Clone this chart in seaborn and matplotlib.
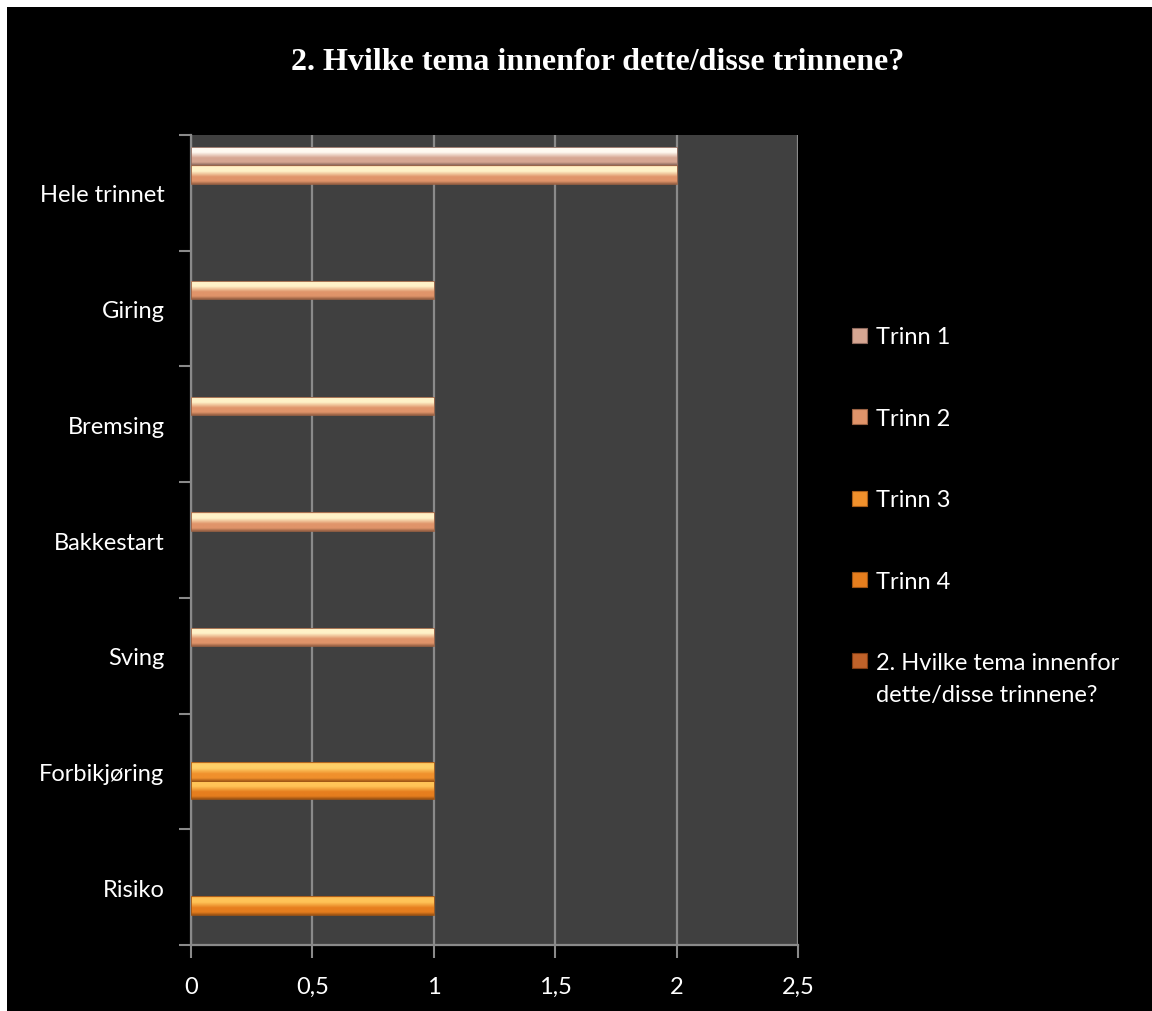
import numpy as np
import pandas as pd
import matplotlib
matplotlib.use("Agg")
import matplotlib.pyplot as plt
import seaborn as sns
from matplotlib.patches import Patch, Rectangle
from matplotlib.colors import to_rgb

categories = ["Hele trinnet", "Giring", "Bremsing", "Bakkestart", "Sving", "Forbikjøring", "Risiko"]
series_names = ["Trinn 1", "Trinn 2", "Trinn 3", "Trinn 4",
                "2. Hvilke tema innenfor dette/disse trinnene?"]
legend_first_lines = ["Trinn 1", "Trinn 2", "Trinn 3", "Trinn 4", "2. Hvilke tema innenfor"]
legend_second_line = "dette/disse trinnene?"
trinn1 = [2, 0, 0, 0, 0, 0, 0]
trinn2 = [2, 1, 1, 1, 1, 0, 0]
trinn3 = [0, 0, 0, 0, 0, 1, 0]
trinn4 = [0, 0, 0, 0, 0, 1, 1]
serie5 = [0, 0, 0, 0, 0, 0, 0]
x_ticks = [0, 0.5, 1, 1.5, 2, 2.5]
x_ticklabels = ["0", "0,5", "1", "1,5", "2", "2,5"]
title = "2. Hvilke tema innenfor dette/disse trinnene?"

# colour sets per series: (edge-top, highlight, main, dark bottom)
shades = [
    ("#e8c8b8", "#fffaf2", "#d6a692", "#8e6a5e"),
    ("#f0b488", "#fff2c8", "#e0946a", "#9a6244"),
    ("#f4a040", "#ffd068", "#f0902c", "#a85c18"),
    ("#ec9034", "#ffc458", "#e67e1e", "#9e5414"),
    ("#d07030", "#f0a050", "#c0622a", "#803c14"),
]
palette = [s[2] for s in shades]

rows = []
for name, vals in zip(series_names, [trinn1, trinn2, trinn3, trinn4, serie5]):
    for c, v in zip(categories, vals):
        rows.append({"Tema": c, "Verdi": v, "Serie": name})
df = pd.DataFrame(rows)

sns.set_theme(style="dark")
plt.rcParams["font.family"] = ["Lato", "DejaVu Sans"]

fig = plt.figure(figsize=(11.52, 10.12), dpi=100, facecolor="black")
ax = fig.add_axes([191/1152, 66/1012, 607/1152, 810/1012])
ax.set_facecolor("#404040")

sns.barplot(data=df, y="Tema", x="Verdi", hue="Serie", orient="h",
            order=categories, hue_order=series_names, palette=palette,
            width=0.8, errorbar=None, linewidth=0, legend=False, ax=ax)

ax.set_xlim(0, 2.5)
ylim = ax.get_ylim()
xlim = ax.get_xlim()

# bevel-like gradient on each bar
def make_grad(sh):
    e, h, m, d = [np.array(to_rgb(c)) for c in sh]
    n = 60
    t = np.linspace(0, 1, n)
    out = np.zeros((n, 1, 3))
    for i, v in enumerate(t):
        if v < 0.1:
            col = e + (h - e) * (v / 0.1)
        elif v < 0.32:
            col = h
        elif v < 0.85:
            col = h + (m - h) * min(1, (v - 0.32) / 0.3)
        else:
            col = m + (d - m) * ((v - 0.85) / 0.15)
        out[i, 0] = col
    return out

for cont, sh in zip(ax.containers, shades):
    grad = make_grad(sh)
    for p in cont.patches:
        w = p.get_width()
        if w <= 0:
            continue
        x0, y0, hgt = p.get_x(), p.get_y(), p.get_height()
        im = ax.imshow(grad, extent=(x0, x0 + w, y0 + hgt, y0), origin="upper",
                       aspect="auto", interpolation="bilinear", zorder=3)
        im.set_clip_path(p)
        p.set_edgecolor(sh[3])
        p.set_linewidth(0.6)
        p.set_zorder(3.1)
        p.set_facecolor("none")

ax.set_xlim(xlim)
ax.set_ylim(ylim)

# grid and axes
ax.set_xticks(x_ticks)
ax.set_xticklabels(x_ticklabels)
ax.grid(axis="x", color="#8a8a8a", linewidth=1.6, zorder=1)
ax.grid(axis="y", visible=False)
ax.set_axisbelow(True)
ax.set_xlabel("")
ax.set_ylabel("")

ax.set_yticks(range(len(categories)))
ax.set_yticklabels(categories)
ax.set_yticks(np.arange(-0.5, len(categories) + 0.5, 1), minor=True)
ax.tick_params(axis="y", which="major", length=0, pad=19, labelsize=17, labelcolor="white")
ax.tick_params(axis="y", which="minor", length=9, width=1.5, color="#8a8a8a", left=True)
ax.tick_params(axis="x", which="major", length=9, width=1.5, color="#8a8a8a", bottom=True,
               pad=13, labelsize=17, labelcolor="white")

for s in ["top", "right"]:
    ax.spines[s].set_visible(False)
for s in ["left", "bottom"]:
    ax.spines[s].set_visible(True)
    ax.spines[s].set_color("#8a8a8a")
    ax.spines[s].set_linewidth(1.6)

fig.text(598/1152, 1 - 62/1012, title, ha="center", va="center", color="white",
         fontsize=23, fontweight="bold", family="Liberation Serif")

handles = [Patch(facecolor=s[2], edgecolor=s[3], linewidth=0.8) for s in shades]
leg = fig.legend(handles, legend_first_lines, loc="upper left",
                 bbox_to_anchor=(843/1152, 1 - 318/1012), frameon=False,
                 fontsize=17, labelcolor="white", handlelength=0.6, handleheight=0.6,
                 handletextpad=0.4, labelspacing=2.56, borderaxespad=0)

fig.canvas.draw()
last = leg.get_texts()[-1]
bb = last.get_window_extent()
fig.text(bb.x0 / 1152, (bb.y0 - 32) / 1012, legend_second_line, ha="left", va="bottom",
         color="white", fontsize=17)

# white page edge strips
fig.add_artist(Rectangle((0, 1 - 8/1012), 1, 8/1012, transform=fig.transFigure,
                         facecolor="white", edgecolor="none"))
fig.add_artist(Rectangle((0, 0), 7/1152, 1, transform=fig.transFigure,
                         facecolor="white", edgecolor="none"))

fig.savefig("out.png", dpi=100, facecolor="black")
